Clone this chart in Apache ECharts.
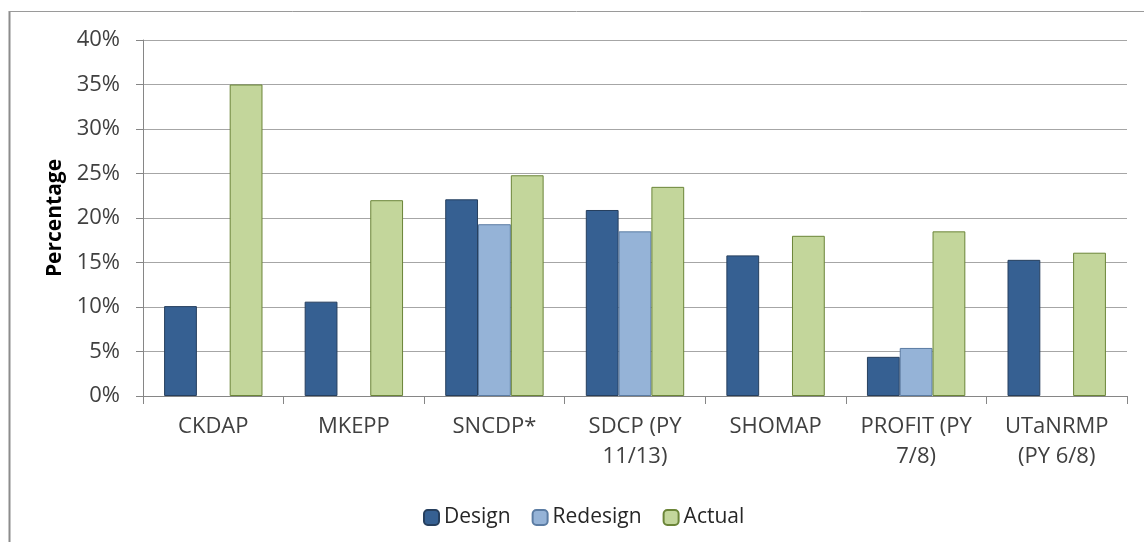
<!DOCTYPE html>
<html>
<head>
<meta charset="utf-8">
<script src="https://cdn.jsdelivr.net/npm/echarts@6/dist/echarts.min.js"></script>
<style>
html,body{margin:0;padding:0;background:#fff;}
#chart{width:1144px;height:542px;}
</style>
</head>
<body>
<div id="chart"></div>
<script>
const categories = ['CKDAP', 'MKEPP', 'SNCDP*', 'SDCP (PY\n11/13)', 'SHOMAP', 'PROFIT (PY\n7/8)', 'UTaNRMP\n(PY 6/8)'];
const designValues = [10.1, 10.6, 22.1, 20.9, 15.8, 4.4, 15.3];
const redesignValues = [null, null, 19.3, 18.5, null, 5.4, null];
const actualValues = [35.0, 22.0, 24.8, 23.5, 18.0, 18.5, 16.1];
const yTicks = [0, 5, 10, 15, 20, 25, 30, 35, 40];

const FONT = 'Open Sans';
const chart = echarts.init(document.getElementById('chart'));
chart.setOption({
  animation: false,
  textStyle: { fontFamily: FONT },
  graphic: [
    { type: 'line', shape: { x1: 9.5, y1: 11, x2: 9.5, y2: 542 }, style: { stroke: '#8c8c8c', lineWidth: 2 } },
    { type: 'line', shape: { x1: 9, y1: 11.5, x2: 1144, y2: 11.5 }, style: { stroke: '#9a9a9a', lineWidth: 1 } }
  ],
  grid: { left: 143, right: 17, top: 40, bottom: 146, containLabel: false },
  legend: {
    left: 418, top: 502,
    itemWidth: 15, itemHeight: 15, itemGap: 21,
    textStyle: { fontSize: 21, color: '#262626', fontFamily: FONT },
    data: ['Design', 'Redesign', 'Actual']
  },
  xAxis: {
    type: 'category',
    data: categories,
    axisLine: { lineStyle: { color: '#868686', width: 1 } },
    axisTick: { show: true, length: 8, lineStyle: { color: '#868686' } },
    axisLabel: { interval: 0, fontSize: 22, color: '#404040', margin: 16, lineHeight: 30, fontFamily: FONT }
  },
  yAxis: {
    type: 'value',
    min: yTicks[0], max: yTicks[yTicks.length - 1], interval: 5,
    name: 'Percentage', nameLocation: 'middle', nameGap: 77,
    nameTextStyle: { fontSize: 21, fontWeight: 'bold', color: '#000', fontFamily: FONT },
    axisLine: { show: true, lineStyle: { color: '#868686' } },
    axisTick: { show: true, length: 7, inside: false, lineStyle: { color: '#868686' } },
    axisLabel: { fontSize: 22, color: '#404040', margin: 23, formatter: '{value}%', fontFamily: FONT },
    splitLine: { lineStyle: { color: '#a6a6a6', width: 1 } }
  },
  series: [
    { name: 'Design', type: 'bar', data: designValues, barGap: '0%', barCategoryGap: '30%',
      itemStyle: { color: '#366092', borderColor: '#263f5e', borderWidth: 1 } },
    { name: 'Redesign', type: 'bar', data: redesignValues,
      itemStyle: { color: '#95b3d7', borderColor: '#5b7ca3', borderWidth: 1 } },
    { name: 'Actual', type: 'bar', data: actualValues,
      itemStyle: { color: '#c3d69b', borderColor: '#6b8538', borderWidth: 1 } }
  ]
});
</script>
</body>
</html>
